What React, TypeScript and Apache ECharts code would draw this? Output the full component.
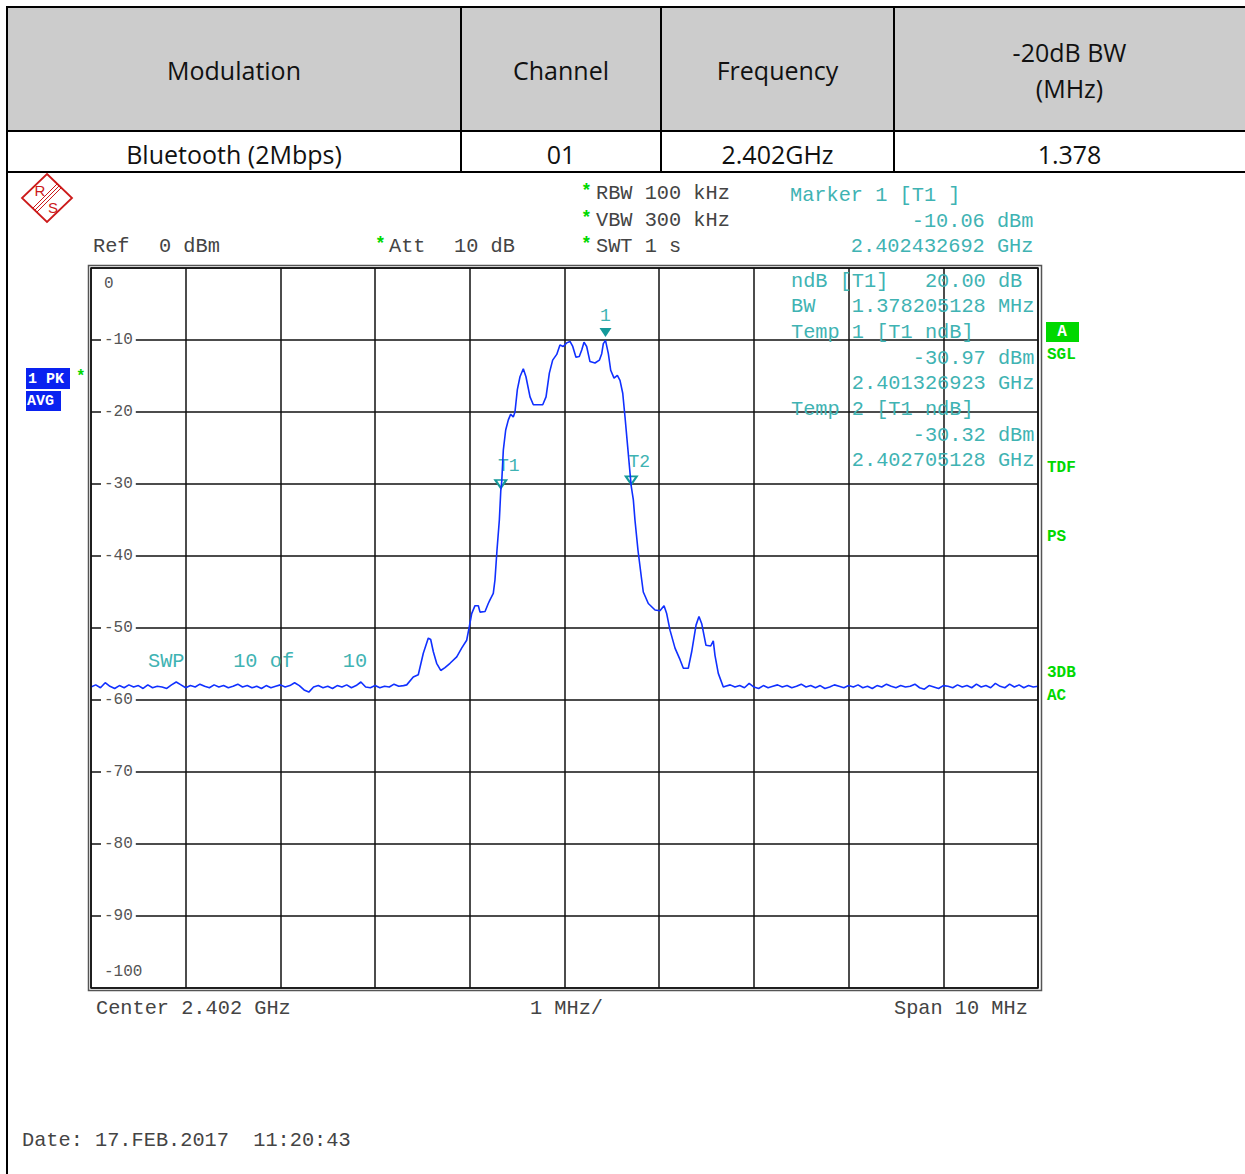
import React, { useEffect, useRef } from "react";
import * as echarts from "echarts";

// ---------- table content ----------
const headerCells = ["Modulation", "Channel", "Frequency", "-20dB BW\n(MHz)"];
const rowCells = ["Bluetooth (2Mbps)", "01", "2.402GHz", "1.378"];

// ---------- axis ----------
const freqMinMHz = 2397;
const freqMaxMHz = 2407;
const freqStepMHz = 1;
const levelMin = -100;
const levelMax = 0;
const levelStep = 10;

// ---------- trace (MHz, dBm) ----------
const noiseLeftStart = 2397.0;
const noiseStep = 0.05;
const noiseLeftLevels = [
  -58.2, -57.9, -58.3, -57.6, -58.1, -58.4, -58.0, -58.3, -57.9, -58.2,
  -58.0, -58.4, -57.9, -58.3, -58.1, -58.2, -58.4, -57.9, -57.5, -57.9,
  -58.3, -58.0, -58.2, -57.8, -58.1, -58.3, -57.9, -58.2, -58.0, -58.3,
  -58.1, -57.8, -58.2, -58.0, -58.3, -58.1, -58.4, -58.0, -58.3, -58.1,
  -57.9, -58.2, -58.0, -57.6, -58.0, -58.6, -58.9, -58.2, -58.0, -58.3,
  -58.1, -58.4, -58.0, -58.2, -57.9, -58.3, -58.0, -57.5, -58.2, -58.3,
  -58.0, -58.3, -58.1, -58.2, -57.8, -58.1, -58.0,
];
const signalFreq = [
  2400.334, 2400.403, 2400.456, 2400.509, 2400.562, 2400.587, 2400.615, 2400.65, 2400.693, 2400.738,
  2400.791, 2400.862, 2400.914, 2400.967, 2400.995, 2401.02, 2401.055, 2401.09, 2401.108, 2401.161,
  2401.195, 2401.213, 2401.248, 2401.266, 2401.287, 2401.312, 2401.327, 2401.337, 2401.354, 2401.379,
  2401.407, 2401.432, 2401.459, 2401.477, 2401.502, 2401.53, 2401.565, 2401.593, 2401.636, 2401.671,
  2401.77, 2401.805, 2401.84, 2401.875, 2401.918, 2401.952, 2401.987, 2402.023, 2402.058, 2402.087,
  2402.121, 2402.156, 2402.182, 2402.206, 2402.234, 2402.269, 2402.322, 2402.368, 2402.393, 2402.41,
  2402.433, 2402.463, 2402.488, 2402.523, 2402.558, 2402.586, 2402.615, 2402.639, 2402.667, 2402.692,
  2402.705, 2402.727, 2402.744, 2402.776, 2402.815, 2402.832, 2402.885, 2402.956, 2403.008, 2403.051,
  2403.079, 2403.114, 2403.167, 2403.22, 2403.255, 2403.307, 2403.343, 2403.389, 2403.42, 2403.449,
  2403.494, 2403.544, 2403.571, 2403.589, 2403.624, 2403.677,
];
const signalLevel = [
  -57.9, -56.8, -56.5, -53.5, -51.4, -51.6, -53.3, -54.9, -55.9, -55.5,
  -54.9, -54.0, -52.8, -51.7, -49.8, -48.0, -46.9, -46.9, -47.8, -47.7,
  -46.6, -46.1, -45.2, -43.3, -39.2, -35.0, -30.97, -29.7, -25.3, -22.5,
  -21.1, -20.3, -20.7, -20.0, -16.9, -15.1, -14.0, -15.1, -17.9, -19.0,
  -19.0, -17.9, -14.6, -12.8, -12.0, -10.7, -10.9, -10.4, -10.2, -10.9,
  -12.4, -12.3, -11.4, -10.3, -10.9, -13.0, -13.2, -12.8, -11.9, -10.5,
  -10.06, -11.9, -14.2, -15.3, -14.9, -15.6, -17.4, -20.7, -24.8, -28.5,
  -30.32, -32.2, -35.0, -39.2, -43.3, -45.0, -46.6, -47.5, -47.6, -46.9,
  -48.0, -50.3, -52.8, -54.4, -55.6, -55.6, -53.3, -49.6, -48.4, -49.4,
  -52.4, -52.5, -51.8, -53.8, -56.3, -58.2,
];
const noiseRightStart = 2403.7;
const noiseRightLevels = [
  -58.1, -57.9, -58.2, -58.0, -58.3, -57.7, -58.2, -58.4, -58.0, -58.3,
  -58.1, -57.9, -58.2, -58.0, -58.3, -58.1, -57.8, -58.2, -58.0, -58.3,
  -58.0, -58.4, -58.2, -57.9, -58.1, -58.3, -58.0, -58.2, -57.9, -58.3,
  -58.1, -58.4, -58.0, -58.2, -57.8, -58.1, -58.3, -58.0, -58.2, -58.1,
  -57.8, -58.3, -58.5, -58.0, -58.2, -58.4, -58.0, -58.1, -58.3, -57.9,
  -58.2, -58.0, -58.3, -57.8, -58.2, -58.0, -58.3, -57.7, -58.1, -58.3,
  -57.8, -58.2, -57.9, -58.3, -58.0, -58.2, -58.1,
];

// ---------- markers ----------
const marker1 = { freq: 2402.432692, level: -10.06, label: "1" };
const markerT1 = { freq: 2401.326923, level: -30.97, label: "T1" };
const markerT2 = { freq: 2402.705128, level: -30.32, label: "T2" };

// ---------- instrument texts ----------
const setupLines = ["RBW 100 kHz", "VBW 300 kHz", "SWT 1 s"];
const markerHeader = ["Marker 1 [T1 ]", "          -10.06 dBm", "     2.402432692 GHz"];
const markerBox = [
  "ndB [T1]   20.00 dB",
  "BW   1.378205128 MHz",
  "Temp 1 [T1 ndB]",
  "          -30.97 dBm",
  "     2.401326923 GHz",
  "Temp 2 [T1 ndB]",
  "          -30.32 dBm",
  "     2.402705128 GHz",
];
const sideFlags = ["SGL", "TDF", "PS", "3DB", "AC"];

const MONO = "'Liberation Mono', 'DejaVu Sans Mono', monospace";
const SANS = "'Open Sans', 'Noto Sans', sans-serif";
const TEAL = "#3fb3b3";
const GRAY = "#444444";
const GREEN = "#00d800";
const FS = 20.3;

function txt(text: string, x: number, y: number, color: string, size = FS, opts: any = {}) {
  return {
    type: "text",
    x,
    y,
    z: 50,
    style: {
      text,
      fill: color,
      font: `${opts.bold ? "bold " : ""}${size}px ${opts.family || MONO}`,
      align: opts.align || "left",
      verticalAlign: "middle",
      lineHeight: opts.lineHeight,
    },
  };
}
function line(x1: number, y1: number, x2: number, y2: number, color = "#000", w = 2) {
  return { type: "line", z: 40, shape: { x1, y1, x2, y2 }, style: { stroke: color, lineWidth: w } };
}

export default function App() {
  const ref = useRef<HTMLDivElement>(null);
  useEffect(() => {
    if (!ref.current) return;
    const chart = echarts.init(ref.current, undefined, { renderer: "svg" });

    const data: number[][] = [];
    noiseLeftLevels.forEach((v, i) => data.push([noiseLeftStart + i * noiseStep, v]));
    signalFreq.forEach((f, i) => data.push([f, signalLevel[i]]));
    noiseRightLevels.forEach((v, i) => data.push([noiseRightStart + i * noiseStep, v]));

    const colX = [7, 461, 661, 894, 1245];
    const graphic: any[] = [];
    // table
    graphic.push({ type: "rect", z: 30, shape: { x: 7, y: 7, width: 1238, height: 124 }, style: { fill: "#cccccc" } });
    graphic.push(line(7, 7, 1245, 7), line(7, 131, 1245, 131), line(7, 172, 1245, 172), line(7, 6, 7, 1174));
    [461, 661, 894].forEach((x) => graphic.push(line(x, 7, x, 172)));
    headerCells.forEach((h, i) => {
      const cx = (colX[i] + colX[i + 1]) / 2;
      graphic.push(txt(h, cx, 70, "#111", 25, { family: SANS, align: "center", lineHeight: 36 }));
    });
    rowCells.forEach((h, i) => {
      const cx = (colX[i] + colX[i + 1]) / 2;
      graphic.push(txt(h, cx, 154, "#111", 25, { family: SANS, align: "center" }));
    });

    // R&S logo
    graphic.push({
      type: "polygon", z: 40,
      shape: { points: [[47, 174], [72, 198], [47, 222], [22, 198]] },
      style: { fill: "none", stroke: "#cc1a1a", lineWidth: 1.8 },
    });
    [-2, 0, 2].forEach((d) =>
      graphic.push(line(59 + d, 186 + d, 35 + d, 210 + d, "#cc1a1a", 1))
    );
    graphic.push(txt("R", 40, 190, "#cc1a1a", 15, { family: "'Liberation Sans', sans-serif", align: "center" }));
    graphic.push(txt("S", 53, 207, "#cc1a1a", 15, { family: "'Liberation Sans', sans-serif", align: "center" }));

    // header instrument texts
    graphic.push(txt("Ref", 93, 246, GRAY), txt("0 dBm", 159, 246, GRAY));
    graphic.push(txt("*", 375, 244, GREEN, 18, { bold: true }), txt("Att", 389, 246, GRAY), txt("10 dB", 454, 246, GRAY));
    const setupY = [193, 220, 246];
    setupLines.forEach((s, i) => {
      graphic.push(txt("*", 581, setupY[i] - 2, GREEN, 18, { bold: true }));
      graphic.push(txt(s, 596, setupY[i], GRAY));
    });
    const mhY = [195, 221, 246];
    markerHeader.forEach((s, i) => graphic.push(txt(s, 790, mhY[i], TEAL)));
    markerBox.forEach((s, i) => graphic.push(txt(s, 791, 281 + i * 25.7, TEAL)));
    graphic.push(txt("SWP    10 of    10", 148, 661, TEAL));

    // left badges
    graphic.push({ type: "rect", z: 40, shape: { x: 26, y: 368, width: 44, height: 21 }, style: { fill: "#0a22f0" } });
    graphic.push(txt("1 PK", 28, 379, "#fff", 15, { bold: true }));
    graphic.push({ type: "rect", z: 40, shape: { x: 26, y: 391, width: 35, height: 20 }, style: { fill: "#0a22f0" } });
    graphic.push(txt("AVG", 27, 401, "#fff", 15, { bold: true }));
    graphic.push(txt("*", 76, 377, GREEN, 16, { bold: true }));

    // right flags
    graphic.push({ type: "rect", z: 40, shape: { x: 1046, y: 322, width: 33, height: 20 }, style: { fill: GREEN } });
    graphic.push(txt("A", 1062, 332, "#fff", 16, { bold: true, align: "center" }));
    const flagY = [355, 468, 537, 673, 696];
    sideFlags.forEach((s, i) => graphic.push(txt(s, 1047, flagY[i], GREEN, 16, { bold: true })));

    // plot frame
    graphic.push({ type: "rect", z: 45, shape: { x: 88.5, y: 265.5, width: 953, height: 725 }, style: { fill: "none", stroke: "#555", lineWidth: 1.5 } });
    graphic.push({ type: "rect", z: 45, shape: { x: 91, y: 268, width: 947, height: 720 }, style: { fill: "none", stroke: "#111", lineWidth: 1.5 } });

    // bottom texts
    graphic.push(txt("Center 2.402 GHz", 96, 1008, GRAY));
    graphic.push(txt("1 MHz/", 530, 1008, GRAY));
    graphic.push(txt("Span 10 MHz", 894, 1008, GRAY));
    graphic.push(txt("Date: 17.FEB.2017  11:20:43", 22, 1140, GRAY));

    const lblStyle = { show: true, color: TEAL, fontFamily: MONO, fontSize: 18, position: "inside" };

    chart.setOption({
      animation: false,
      backgroundColor: "#fff",
      grid: { left: 91, top: 268, width: 947, height: 720, show: false },
      xAxis: {
        type: "value",
        min: freqMinMHz,
        max: freqMaxMHz,
        interval: freqStepMHz,
        axisLabel: { show: false },
        axisTick: { show: false },
        axisLine: { show: false },
        splitLine: { show: true, lineStyle: { color: "#111", width: 1.5 } },
      },
      yAxis: {
        type: "value",
        min: levelMin,
        max: levelMax,
        interval: levelStep,
        axisTick: { show: false },
        axisLine: { show: false },
        splitLine: { show: true, lineStyle: { color: "#111", width: 1.5 } },
        axisLabel: {
          inside: true,
          margin: 10,
          showMinLabel: true,
          showMaxLabel: true,
          fontFamily: MONO,
          fontSize: 16,
          color: "#555",
          formatter: (v: number) =>
            v === levelMax ? `{top|${v}}` : v === levelMin ? `{bot|${v}}` : `{mid|${v}}`,
          rich: {
            top: { padding: [32, 0, 0, 3], fontFamily: MONO, fontSize: 16, color: "#555" },
            bot: { padding: [0, 0, 32, 3], fontFamily: MONO, fontSize: 16, color: "#555" },
            mid: { backgroundColor: "#fff", padding: [0, 3], fontFamily: MONO, fontSize: 16, color: "#555" },
          },
        },
      },
      series: [
        {
          type: "line",
          data,
          showSymbol: false,
          lineStyle: { color: "#1030ff", width: 1.6 },
          z: 5,
          markPoint: {
            data: [
              { coord: [marker1.freq, marker1.level], symbol: "triangle", symbolSize: [12, 9], symbolRotate: 180, symbolOffset: [0, -8], itemStyle: { color: "#159a9a" }, label: { show: false } },
              { coord: [markerT1.freq, markerT1.level], symbol: "emptyTriangle", symbolSize: [11, 8], symbolRotate: 180, symbolOffset: [0, -7], itemStyle: { color: "#159a9a" }, label: { show: false } },
              { coord: [markerT2.freq, markerT2.level], symbol: "emptyTriangle", symbolSize: [11, 8], symbolRotate: 180, symbolOffset: [0, -6], itemStyle: { color: "#159a9a" }, label: { show: false } },
              { coord: [marker1.freq, marker1.level], symbol: "circle", symbolSize: 0, label: { ...lblStyle, formatter: marker1.label, offset: [0, -24] } },
              { coord: [markerT1.freq, markerT1.level], symbol: "circle", symbolSize: 0, label: { ...lblStyle, formatter: markerT1.label, offset: [8, -25] } },
              { coord: [markerT2.freq, markerT2.level], symbol: "circle", symbolSize: 0, label: { ...lblStyle, formatter: markerT2.label, offset: [8, -24] } },
            ],
          },
        },
      ],
      graphic,
    });
    return () => chart.dispose();
  }, []);

  return (
    <div
      ref={ref}
      style={{ position: "absolute", left: 0, top: 0, width: 1245, height: 1174, background: "#fff" }}
    />
  );
}
